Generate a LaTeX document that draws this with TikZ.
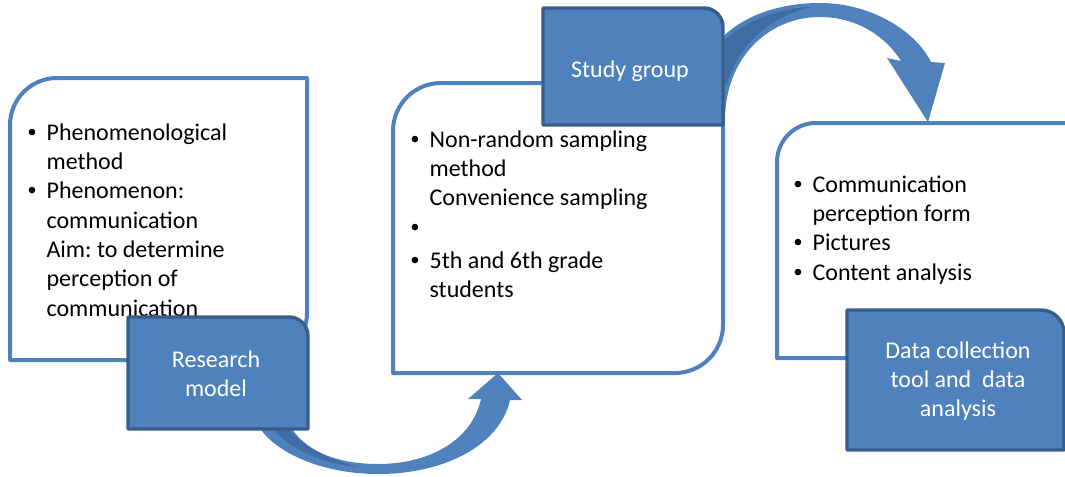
\documentclass[tikz,border=0pt]{standalone}
\usepackage{fontspec}
\setmainfont{Carlito}
\newfontfamily\bulletfont{Liberation Sans}
\frenchspacing
\definecolor{accent}{HTML}{4F81BD}
\definecolor{accentdark}{HTML}{385D8A}
\definecolor{accentback}{HTML}{3F6DA3}
\newcommand\bu{\makebox[16pt][l]{\hspace*{2pt}{\bulletfont •}}}
\newcommand\ind{\hspace*{16pt}}
% white box: top-left and bottom-right rounded (x1,y1,x2,y2,r)
\newcommand\diagpath[5]{(#1,#2+#5) .. controls (#1,#2+0.448*#5) and (#1+0.448*#5,#2) .. (#1+#5,#2) -- (#3,#2) -- (#3,#4-#5) .. controls (#3,#4-0.448*#5) and (#3-0.448*#5,#4) .. (#3-#5,#4) -- (#1,#4) -- cycle}
% dark box: top-right rounded
\newcommand\trpath[5]{(#1,#2) -- (#3-#5,#2) .. controls (#3-0.448*#5,#2) and (#3,#2+0.448*#5) .. (#3,#2+#5) -- (#3,#4) -- (#1,#4) -- cycle}
\begin{document}
\begin{tikzpicture}[x=0.75pt,y=-0.75pt,
  whitebox/.style={draw=accent,fill=white,line width=3pt,line join=round},
  darkbox/.style={draw=accentdark,fill=accent,line width=2.6pt,line join=round},
  arrowfill/.style={fill=accent},
  arrowback/.style={fill=accentback},
  listtext/.style={inner sep=0pt,anchor=base west,font=\fontsize{18}{22}\selectfont},
  headtext/.style={inner sep=0pt,anchor=base,text=white,font=\fontsize{18}{22}\selectfont}]
\useasboundingbox (0,0) rectangle (1065,476);
% white boxes
\draw[whitebox] \diagpath{10}{78}{307}{360}{47};
\draw[whitebox] \diagpath{393}{83}{723}{373}{48};
\draw[whitebox] \diagpath{777}{123}{1095}{358}{39};
% list texts
\node[listtext] (t1) at (25,140) {\begin{tabular}[t]{@{}l@{}}\bu Phenomenological\\ \ind method\\ \bu Phenomenon:\\ \ind communication\\ \ind Aim: to determine\\ \ind perception of\\ \ind communication\end{tabular}};
\node[listtext] (t2) at (408,147) {\begin{tabular}[t]{@{}l@{}}\bu Non-random sampling\\ \ind method\\ \ind Convenience sampling\\ \bu\\[3pt] \bu 5th and 6th grade\\ \ind students\end{tabular}};
\node[listtext] (t3) at (791,192) {\begin{tabular}[t]{@{}l@{}}\bu Communication\\ \ind perception form\\ \bu Pictures\\ \bu Content analysis\end{tabular}};
% curved arrow 1
\fill[arrowfill] (257,424) .. controls (276,456) and (328,474) .. (378,474) .. controls (445,474) and (500,445) .. (510,400) -- (522,400) -- (498,373) -- (468,399) -- (481,399) .. controls (472,440) and (430,464) .. (378,464) .. controls (335,464) and (303,450) .. (289,424) -- cycle;
\fill[arrowback] (268,424) .. controls (290,451) and (325,464) .. (358,467) .. controls (328,459) and (300,446) .. (285,424) -- cycle;
% curved arrow 2
\fill[arrowfill] (715,45) .. controls (740,15) and (780,3) .. (820,3) .. controls (870,3) and (915,30) .. (931,62) -- (945,63) -- (928,122) -- (887,58) -- (901,61) .. controls (885,35) and (855,17) .. (820,17) .. controls (770,17) and (728,55) .. (725,115) -- (715,115) -- cycle;
\fill[arrowback] (718,47) .. controls (742,20) and (780,8) .. (812,7) .. controls (775,15) and (740,40) .. (727,84) -- (718,84) -- cycle;
% dark boxes
\draw[darkbox] \trpath{128}{317}{308}{429}{19};
\draw[darkbox] \trpath{543}{8}{723}{125}{19};
\draw[darkbox] \trpath{847}{310}{1064}{450}{23};
\node[headtext] (h1) at (216,367) {\begin{tabular}[t]{@{}c@{}}Research\\ model\end{tabular}};
\node[headtext] (h2) at (630,77) {Study group};
\node[headtext] (h3) at (958,358) {\begin{tabular}[t]{@{}c@{}}Data collection\\ tool and~ data\\ analysis\end{tabular}};
\end{tikzpicture}
\end{document}
